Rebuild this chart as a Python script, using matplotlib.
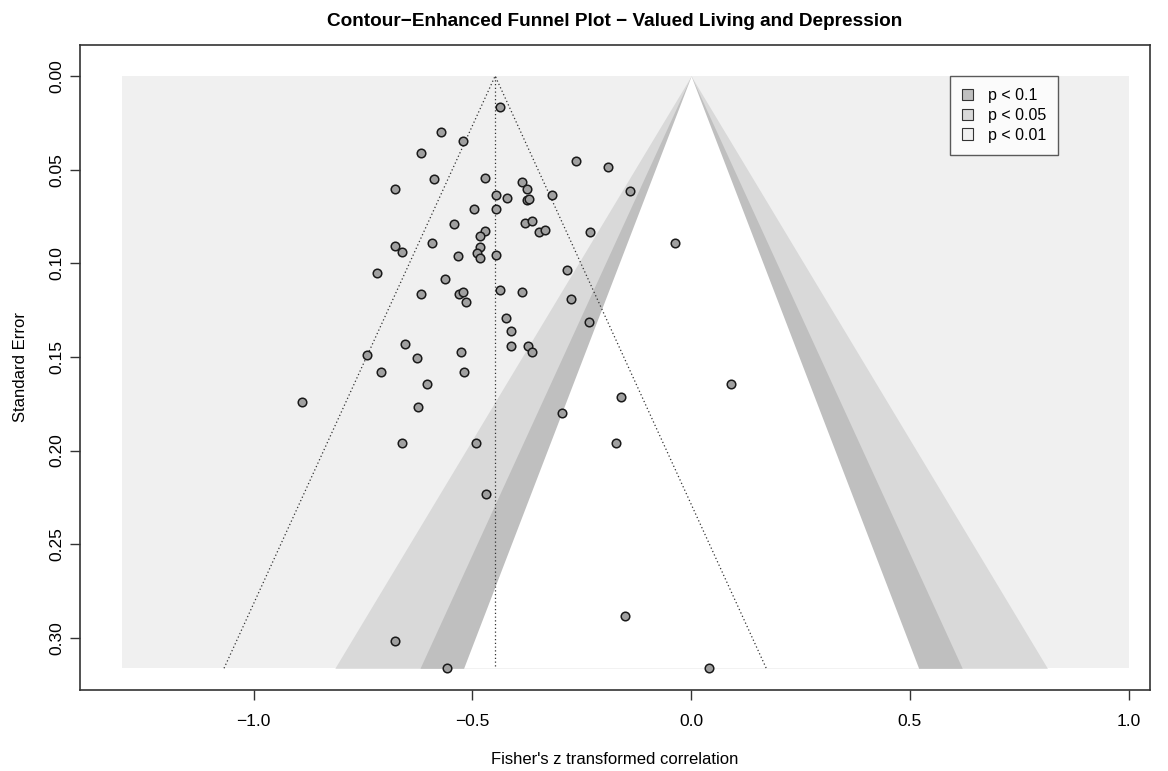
import numpy as np
import matplotlib
matplotlib.use("Agg")
import matplotlib.pyplot as plt
from matplotlib.patches import Patch

plt.rcParams['font.family'] = ['Liberation Sans', 'DejaVu Sans']

# Fisher's z effect sizes and standard errors
yi = [-0.437, -0.572, -0.522, -0.617, -0.264, -0.190, -0.588, -0.471, -0.677, -0.139,
      -0.387, -0.376, -0.446, -0.422, -0.376, -0.371, -0.318, -0.496, -0.446, -0.542,
      -0.379, -0.364, -0.471, -0.483, -0.348, -0.334, -0.232, -0.036, -0.678, -0.660,
      -0.592, -0.483, -0.490, -0.483, -0.532, -0.446, -0.283, -0.719, -0.562, -0.617,
      -0.530, -0.522, -0.515, -0.436, -0.386, -0.275, -0.423, -0.411, -0.234, -0.653,
      -0.740, -0.626, -0.526, -0.411, -0.374, -0.363, -0.708, -0.520, -0.603, 0.092,
      -0.889, -0.625, -0.160, -0.296, -0.660, -0.491, -0.172, -0.470, -0.151, -0.677,
      -0.558, 0.042]
sei = [0.0167, 0.0297, 0.0347, 0.0409, 0.0452, 0.0484, 0.0548, 0.0546, 0.0605, 0.0612,
       0.0567, 0.0605, 0.0635, 0.0653, 0.0662, 0.0655, 0.0635, 0.0708, 0.0708, 0.0792,
       0.0783, 0.0772, 0.0829, 0.0856, 0.0833, 0.0822, 0.0834, 0.0890, 0.0906, 0.0938,
       0.0890, 0.0911, 0.0946, 0.0973, 0.0959, 0.0954, 0.1034, 0.1050, 0.1085, 0.1162,
       0.1162, 0.1155, 0.1205, 0.1141, 0.1155, 0.1189, 0.1292, 0.1361, 0.1313, 0.1431,
       0.1491, 0.1508, 0.1476, 0.1444, 0.1444, 0.1475, 0.1582, 0.1582, 0.1644, 0.1644,
       0.1740, 0.1769, 0.1715, 0.1797, 0.1961, 0.1961, 0.1961, 0.2231, 0.2883, 0.3014,
       0.3162, 0.3162]

pooled = -0.448
xrange_bg = [-1.30, 1.00]
z_levels = [1.6449, 1.9600, 2.5758]
level_colors = ["#BFBFBF", "#D9D9D9", "#F0F0F0"]
legend_labels = ["p < 0.1", "p < 0.05", "p < 0.01"]
x_ticks = [-1.0, -0.5, 0.0, 0.5, 1.0]
y_ticks = [0.00, 0.05, 0.10, 0.15, 0.20, 0.25, 0.30]

fig = plt.figure(figsize=(11.68, 7.71), dpi=100)
ax = fig.add_axes([80/1168, 1-690/771, 1070/1168, 645/771])

se_max = max(sei)
# background (p < 0.01 region)
ax.fill_between(xrange_bg, 0, se_max, color=level_colors[2], lw=0, zorder=0)
# contour wedges, from outer to inner
se_line = np.array([0.0, se_max])
for i, (z, col) in enumerate([(z_levels[2], level_colors[1]),
                              (z_levels[1], level_colors[0]),
                              (z_levels[0], "white")]):
    ax.fill_betweenx(se_line, -z * se_line, z * se_line, color=col, lw=0, zorder=1 + i)

# pseudo confidence region
ax.plot([pooled, pooled], [0, se_max], ls=(0, (1, 2)), color="#333333", lw=0.9, zorder=5)
ax.plot([pooled - 1.96 * se_max, pooled, pooled + 1.96 * se_max], [se_max, 0, se_max],
        ls=(0, (1, 2)), color="#333333", lw=0.9, zorder=5)

ax.scatter(yi, sei, s=38, facecolor="#A0A0A0", edgecolor="#1a1a1a", linewidths=1.1, zorder=6)

ax.set_xlim(-1.397, 1.049)
ax.set_ylim(0.3278, -0.01655)
ax.set_xticks(x_ticks)
ax.set_xticklabels([f"{v:.1f}".replace("-", "\u2212") for v in x_ticks], fontsize=12.5)
ax.set_yticks(y_ticks)
ax.set_yticklabels([f"{v:.2f}" for v in y_ticks], fontsize=12.5, rotation=90, va="center")
ax.tick_params(direction="out", length=7, width=1, color="#333333")
ax.tick_params(axis="x", pad=10)
ax.tick_params(axis="y", pad=4)
for sp in ax.spines.values():
    sp.set_linewidth(1.2)
    sp.set_color("#333333")

ax.set_xlabel("Fisher's z transformed correlation", fontsize=12, labelpad=17)
ax.set_ylabel("Standard Error", fontsize=12, labelpad=16)
fig.text((80 + 1150) / 2 / 1168, 1 - 22 / 771,
         "Contour\u2212Enhanced Funnel Plot \u2212 Valued Living and Depression",
         ha="center", va="center", fontsize=13.7, fontweight="bold")

handles = [Patch(facecolor=c, edgecolor="#333333", lw=0.8) for c in level_colors]
leg = ax.legend(handles, legend_labels, loc="upper right", bbox_to_anchor=(0.914, 0.952),
                fontsize=11.5, frameon=True, fancybox=False, edgecolor="#333333",
                handlelength=0.7, handleheight=0.7, handletextpad=0.9, borderpad=0.75,
                labelspacing=0.3, borderaxespad=0)
leg.get_frame().set_linewidth(1.0)
leg.set_zorder(10)

fig.savefig("out.png", dpi=100, facecolor="white")
